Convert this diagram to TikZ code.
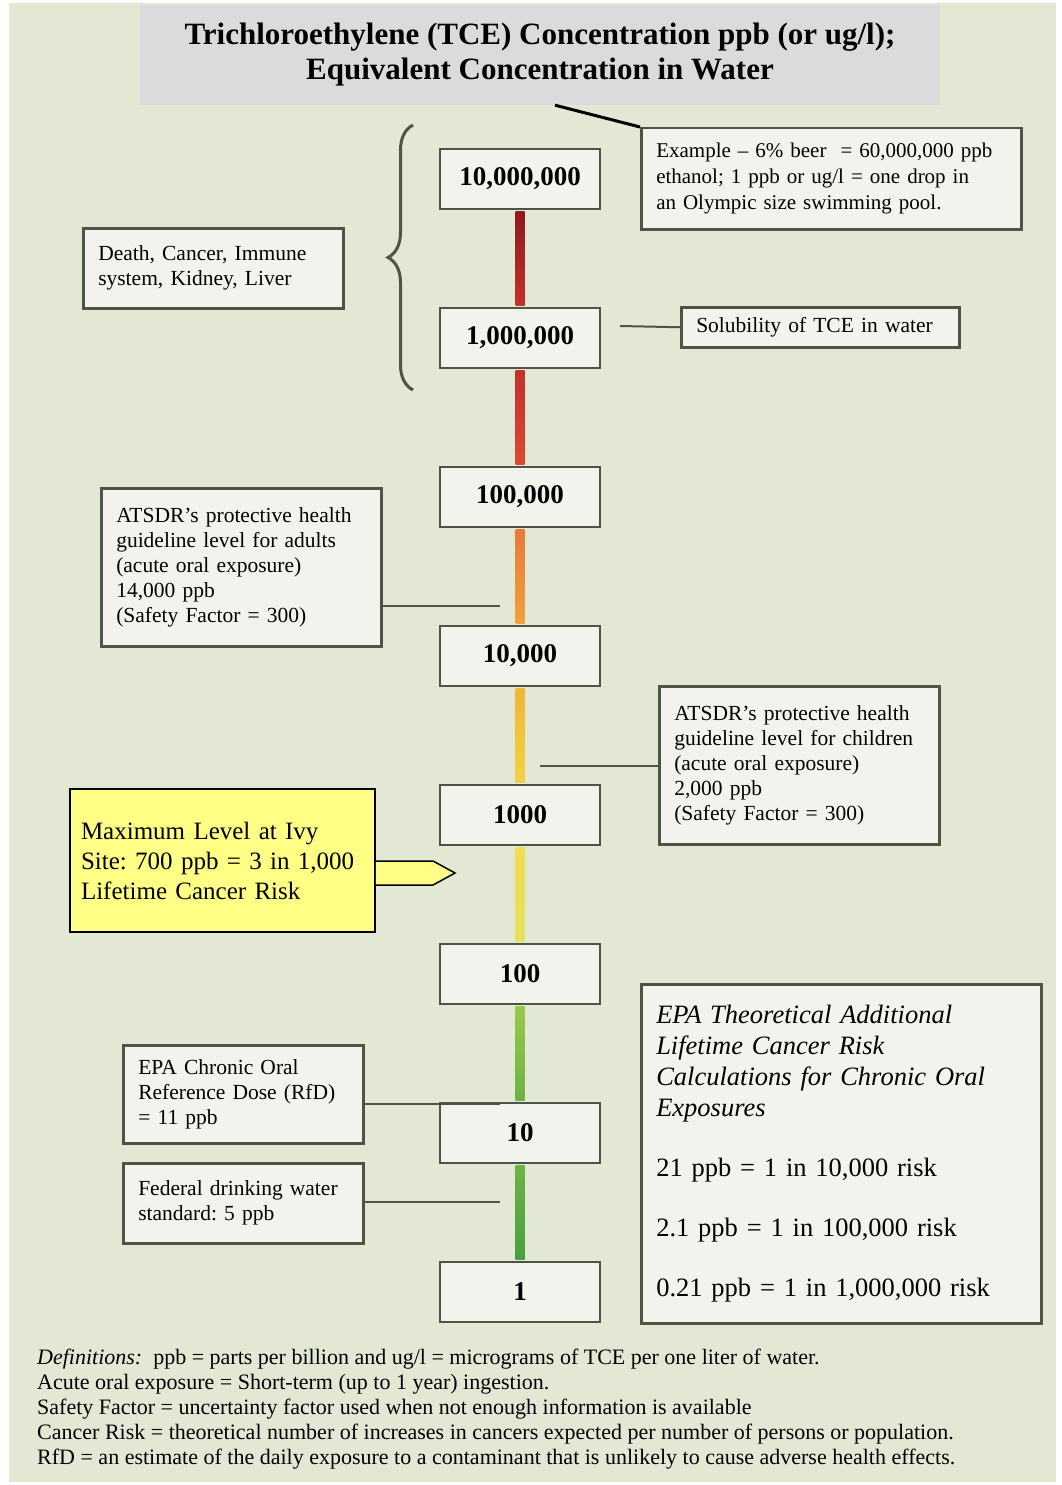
\documentclass[tikz,border=0pt]{standalone}
\usepackage{fontspec}
\setmainfont{Liberation Serif}
\usetikzlibrary{positioning, decorations.pathreplacing}
\frenchspacing
\definecolor{SageBack}{HTML}{E3E8D5}
\definecolor{BoxFill}{HTML}{F1F3EC}
\definecolor{BoxEdge}{HTML}{4E5546}
\definecolor{TitleGray}{HTML}{DADBDC}
\definecolor{IvyYellow}{HTML}{FFFF85}
\definecolor{RedDark}{HTML}{8E1A1E}
\definecolor{RedMid}{HTML}{C4302C}
\definecolor{RedLight}{HTML}{DA4A32}
\definecolor{OrangeTop}{HTML}{E87A3A}
\definecolor{OrangeBot}{HTML}{F0A23C}
\definecolor{AmberTop}{HTML}{F0B634}
\definecolor{AmberBot}{HTML}{F2D244}
\definecolor{YellowTop}{HTML}{F2DC50}
\definecolor{YellowBot}{HTML}{E4E260}
\definecolor{GreenTop}{HTML}{98C84C}
\definecolor{GreenMid}{HTML}{6EB244}
\definecolor{GreenBot}{HTML}{46A040}

\begin{document}
\begin{tikzpicture}[x=1pt, y=-1pt,
    valbox/.style={draw=BoxEdge, line width=2.5pt, fill=BoxFill, minimum width=160pt,
        minimum height=60pt, inner sep=0pt, font=\fontsize{27}{30}\selectfont\bfseries},
    infobox/.style={draw=BoxEdge, line width=2.5pt, fill=BoxFill, anchor=north west,
        inner xsep=15pt, inner ysep=0pt, align=left, font=\fontsize{21.5}{25}\selectfont},
    link/.style={draw=BoxEdge, line width=2pt}]
    % page
    \useasboundingbox (0,0) rectangle (1061,1485);
    \fill[white] (0,0) rectangle (1061,1485);
    \fill[SageBack] (9,3) rectangle (1056,1482);
    % title
    \node[fill=TitleGray, minimum width=800pt, minimum height=100pt, align=center,
        font=\fontsize{31}{35}\selectfont\bfseries] (ttl) at (540,55)
        {Trichloroethylene (TCE) Concentration ppb (or ug/l);\\ Equivalent Concentration in Water};
    % scale of values
    \foreach \val [count=\i] in {{10,000,000},{1,000,000},{100,000},{10,000},1000,100,10,1} {
        \pgfmathsetmacro{\yy}{179 + 159*(\i-1)}
        \node[valbox] (v\i) at (520,\yy) {\val};
    }
    \foreach \ca/\cb [count=\i] in {RedDark/RedMid, RedMid/RedLight, OrangeTop/OrangeBot,
        AmberTop/AmberBot, YellowTop/YellowBot, GreenTop/GreenMid, GreenMid/GreenBot} {
        \pgfmathtruncatemacro{\j}{\i+1}
        \shade[top color=\ca, bottom color=\cb] ([xshift=-4.5pt, yshift=-1.3pt]v\i.south)
            rectangle ([xshift=4.5pt, yshift=1.3pt]v\j.north);
    }
    % notes
    \node[infobox, minimum width=380pt, minimum height=101pt, text width=350pt,
        font=\fontsize{21}{26}\selectfont] (ex) at (640,127)
        {Example -- 6\% beer \ = 60,000,000 ppb\\ ethanol; 1 ppb or ug/l = one drop in\\ an Olympic size swimming pool.};
    \draw[line width=3pt] ([xshift=15pt]ttl.south) -- (ex.north west);
    \node[infobox, minimum width=260pt, minimum height=80pt, text width=230pt] (dth) at (82,227)
        {Death, Cancer, Immune\\ system, Kidney, Liver};
    \draw[decorate, decoration={brace, amplitude=25pt}, line width=3pt, BoxEdge] (413,390) -- (413,125);
    \node[infobox, minimum width=278pt, minimum height=40pt, text width=248pt] (sol) at (680,306)
        {Solubility of TCE in water};
    \coordinate (solpt) at (620,326);
    \draw[link] (solpt) -- (sol.west);
    \node[infobox, minimum width=280pt, minimum height=158pt, text width=250pt] (adu) at (100,487)
        {ATSDR's protective health\\ guideline level for adults\\ (acute oral exposure)\\ 14,000 ppb\\ (Safety Factor = 300)};
    \coordinate (adupt) at (500,606);
    \draw[link] (adupt -| adu.east) -- (adupt);
    \node[infobox, minimum width=280pt, minimum height=158pt, text width=250pt] (chi) at (658,685)
        {ATSDR's protective health\\ guideline level for children\\ (acute oral exposure)\\ 2,000 ppb\\ (Safety Factor = 300)};
    \coordinate (chipt) at (540,766);
    \draw[link] (chipt) -- (chipt -| chi.west);
    \node[infobox, minimum width=240pt, minimum height=98pt, text width=210pt] (rfd) at (122,1044)
        {EPA Chronic Oral\\ Reference Dose (RfD)\\ = 11 ppb};
    \coordinate (rfdpt) at (500,1104);
    \draw[link] (rfdpt -| rfd.east) -- (rfdpt);
    \node[infobox, minimum width=240pt, minimum height=80pt, text width=210pt] (fed) at (122,1162)
        {Federal drinking water\\ standard: 5 ppb};
    \coordinate (fedpt) at (500,1202);
    \draw[link] (fedpt -| fed.east) -- (fedpt);
    \node[infobox, minimum width=400pt, minimum height=339pt, text width=370pt,
        font=\fontsize{26.5}{31}\selectfont] (epa) at (640,983)
        {\textit{EPA Theoretical Additional}\\ \textit{Lifetime Cancer Risk}\\
         \textit{Calculations for Chronic Oral}\\ \textit{Exposures}\\[29pt]
         21 ppb = 1 in 10,000 risk\\[29pt] 2.1 ppb = 1 in 100,000 risk\\[29pt]
         0.21 ppb = 1 in 1,000,000 risk};
    % Ivy site callout
    \node[draw=black, line width=1.5pt, fill=IvyYellow, minimum width=305pt, minimum height=143pt,
        text width=283pt, inner xsep=11pt, align=left, font=\fontsize{25}{30}\selectfont] (ivy) at (222.5,860.5)
        {Maximum Level at Ivy\\ Site: 700 ppb = 3 in 1,000\\ Lifetime Cancer Risk};
    \filldraw[fill=IvyYellow, draw=black, line width=1.5pt] (ivy.east |- 0,861) -- (433,861)
        -- (455,873) -- (433,885) -- (ivy.east |- 0,885);
    % definitions
    \node[anchor=north west, inner sep=0pt, align=left, font=\fontsize{22}{25}\selectfont] (defs) at (37,1349)
        {\textit{Definitions:} \ ppb = parts per billion and ug/l = micrograms of TCE per one liter of water.\\
         Acute oral exposure = Short-term (up to 1 year) ingestion.\\
         Safety Factor = uncertainty factor used when not enough information is available\\
         Cancer Risk = theoretical number of increases in cancers expected per number of persons or population.\\
         RfD = an estimate of the daily exposure to a contaminant that is unlikely to cause adverse health effects.};
\end{tikzpicture}
\end{document}
